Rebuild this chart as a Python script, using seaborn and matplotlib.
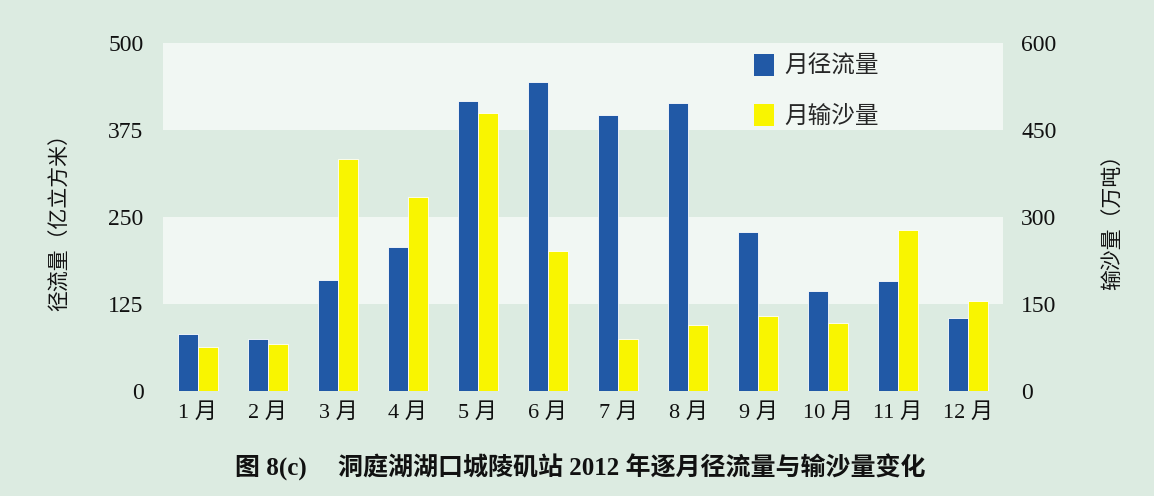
import pandas as pd
import matplotlib.pyplot as plt
import seaborn as sns
from matplotlib.patches import Patch

months = ['1 月', '2 月', '3 月', '4 月', '5 月', '6 月', '7 月', '8 月', '9 月', '10 月', '11 月', '12 月']
runoff = [81, 74, 159, 207, 417, 444, 397, 414, 228, 143, 158, 104]      # 亿立方米
sediment = [75, 81, 400, 334, 479, 241, 89, 113, 129, 117, 277, 155]     # 万吨
series_names = ['月径流量', '月输沙量']

blue = '#2159a6'
yellow = '#f9f500'
bg = '#dcebe1'
band = '#f1f7f3'

sns.set_theme(style='white')
plt.rcParams['font.family'] = ['Liberation Serif', 'Noto Sans CJK SC']
plt.rcParams['axes.unicode_minus'] = False

df_run = pd.DataFrame({'month': months, 'value': runoff, 'series': series_names[0]})
df_sed = pd.DataFrame({'month': months, 'value': sediment, 'series': series_names[1]})

fig = plt.figure(figsize=(11.54, 4.96), dpi=100, facecolor=bg)
ax = fig.add_axes([0.1412, 0.2123, 0.728, 0.701])
ax.set_facecolor(bg)
ax2 = ax.twinx()

# alternating bands
for lo, hi, c in [(0, 125, bg), (125, 250, band), (250, 375, bg), (375, 500, band)]:
    ax.axhspan(lo, hi, color=c, zorder=0, lw=0)

palette = {series_names[0]: blue, series_names[1]: yellow}
sns.barplot(data=df_run, x='month', y='value', hue='series', hue_order=series_names,
            palette=palette, order=months, width=0.57, dodge=True, saturation=1,
            errorbar=None, ax=ax, legend=False, zorder=2, linewidth=0.6, edgecolor='white')
sns.barplot(data=df_sed, x='month', y='value', hue='series', hue_order=series_names,
            palette=palette, order=months, width=0.57, dodge=True, saturation=1,
            errorbar=None, ax=ax2, legend=False, zorder=2, linewidth=0.6, edgecolor='white')

ax.set_ylim(0, 500)
ax2.set_ylim(0, 600)
ax.set_xlim(-0.5, 11.5)
ax.set_yticks([0, 125, 250, 375, 500])
ax2.set_yticks([0, 150, 300, 450, 600])

for a in (ax, ax2):
    for s in a.spines.values():
        s.set_visible(False)
    a.tick_params(length=0, labelsize=17, colors='#111111')
ax.tick_params(axis='y', pad=14)
ax2.tick_params(axis='y', pad=13)
ax.tick_params(axis='x', pad=9, labelsize=16)
ax2.patch.set_visible(False)

ax.set_xlabel('')
ax.set_ylabel('径流量（亿立方米）', fontsize=15, labelpad=27, color='#111111')
ax2.set_ylabel('输沙量（万吨）', fontsize=15, labelpad=34, color='#111111', rotation=90)

handles = [Patch(facecolor=blue, edgecolor='none'), Patch(facecolor=yellow, edgecolor='none')]
fig.legend(handles, series_names, loc='upper left', bbox_to_anchor=(0.635, 0.934),
           frameon=False, fontsize=17, handlelength=0.85, handleheight=1.05,
           labelspacing=1.1, handletextpad=0.45)

fig.text(0.503, 0.058, '图 8(c)　 洞庭湖湖口城陵矶站 2012 年逐月径流量与输沙量变化',
         ha='center', va='center', fontsize=18, fontweight='bold', color='#111111')

fig.savefig('out.png', dpi=100, facecolor=bg)
